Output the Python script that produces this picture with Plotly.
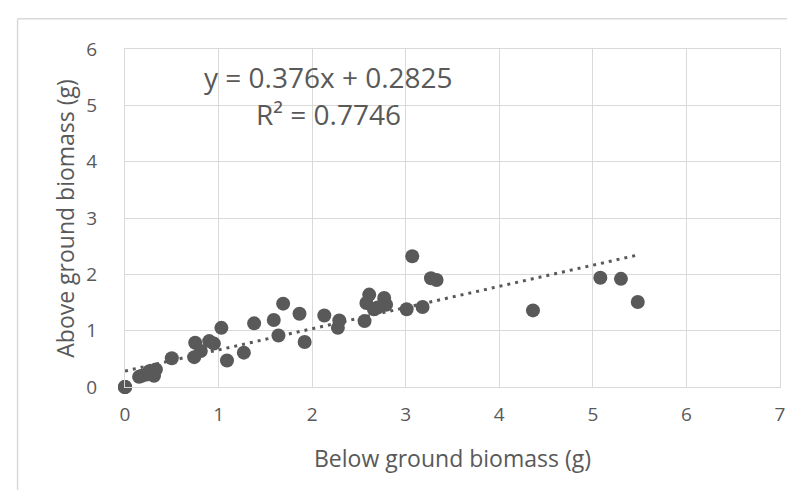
import plotly.graph_objects as go

# Data
below_g = [0, 0, 0, 0.15, 0.18, 0.23, 0.26, 0.31, 0.33, 0.50,
           0.74, 0.75, 0.81, 0.90, 0.95, 1.03, 1.09, 1.27, 1.38, 1.59,
           1.64, 1.69, 1.865, 1.92, 2.13, 2.275, 2.29, 2.56, 2.58, 2.61,
           2.66, 2.70, 2.77, 2.79, 3.01, 3.07, 3.18, 3.27, 3.33, 4.36,
           5.08, 5.30, 5.48]
above_g = [0, 0, 0, 0.18, 0.20, 0.22, 0.28, 0.20, 0.31, 0.51,
           0.53, 0.785, 0.64, 0.815, 0.77, 1.05, 0.47, 0.61, 1.13, 1.19,
           0.915, 1.48, 1.30, 0.80, 1.27, 1.05, 1.18, 1.17, 1.49, 1.64,
           1.38, 1.41, 1.58, 1.46, 1.38, 2.32, 1.42, 1.93, 1.90, 1.36,
           1.94, 1.92, 1.51]

slope = 0.376
intercept = 0.2825
r_squared = 0.7746
trend_x = [0, 5.48]
trend_y = [slope * v + intercept for v in trend_x]

x_ticks = [0, 1, 2, 3, 4, 5, 6, 7]
y_ticks = [0, 1, 2, 3, 4, 5, 6]

grey = "#595959"
grid = "#d9d9d9"
font_family = "'Open Sans', Lato, sans-serif"

fig = go.Figure()
fig.add_trace(go.Scatter(
    x=below_g, y=above_g, mode="markers", cliponaxis=False,
    marker=dict(color=grey, size=14, line=dict(width=0)),
    showlegend=False, hoverinfo="x+y"))
fig.add_trace(go.Scatter(
    x=trend_x, y=trend_y, mode="lines",
    line=dict(color=grey, width=3, dash="3px,5px"),
    showlegend=False, hoverinfo="skip"))

fig.update_layout(
    width=795, height=490,
    margin=dict(l=117, r=23, t=41, b=111),
    paper_bgcolor="white", plot_bgcolor="white",
    font=dict(family=font_family, color=grey),
    xaxis=dict(range=[0, 7], tickvals=x_ticks, showgrid=True, gridcolor=grid,
               gridwidth=1, zeroline=False, showline=True, mirror=True,
               linecolor=grid, linewidth=1, ticks="", ticklabelstandoff=10,
               tickfont=dict(size=19, color=grey, family=font_family)),
    yaxis=dict(range=[0, 6], tickvals=y_ticks, showgrid=True, gridcolor=grid,
               gridwidth=1, zeroline=False, showline=True, mirror=True,
               linecolor=grid, linewidth=1, ticks="", ticklabelstandoff=23,
               tickfont=dict(size=19, color=grey, family=font_family)),
    annotations=[
        dict(text="Below ground biomass (g)", xref="paper", yref="paper",
             x=0.5, y=-0.209, xanchor="center", yanchor="middle",
             showarrow=False, font=dict(size=23, color=grey, family=font_family)),
        dict(text="Above ground biomass (g)", xref="paper", yref="paper",
             x=-0.092, y=0.5, xanchor="center", yanchor="middle", textangle=-90,
             showarrow=False, font=dict(size=23, color=grey, family=font_family)),
        dict(text=f"y = {slope}x + {intercept}", xref="x", yref="y",
             x=2.18, y=5.5, xanchor="center", yanchor="middle",
             showarrow=False, font=dict(size=28, color=grey, family=font_family)),
        dict(text=f"R² = {r_squared}", xref="x", yref="y",
             x=2.18, y=4.85, xanchor="center", yanchor="middle",
             showarrow=False, font=dict(size=28, color=grey, family=font_family)),
    ],
    shapes=[
        dict(type="line", xref="paper", yref="paper", x0=-0.164, x1=1.2,
             y0=1.0896, y1=1.0896, line=dict(color=grid, width=1.5)),
        dict(type="line", xref="paper", yref="paper", x0=-0.164, x1=-0.164,
             y0=1.0896, y1=-0.5, line=dict(color=grid, width=1.5)),
    ],
)

fig.write_html("out.html")
